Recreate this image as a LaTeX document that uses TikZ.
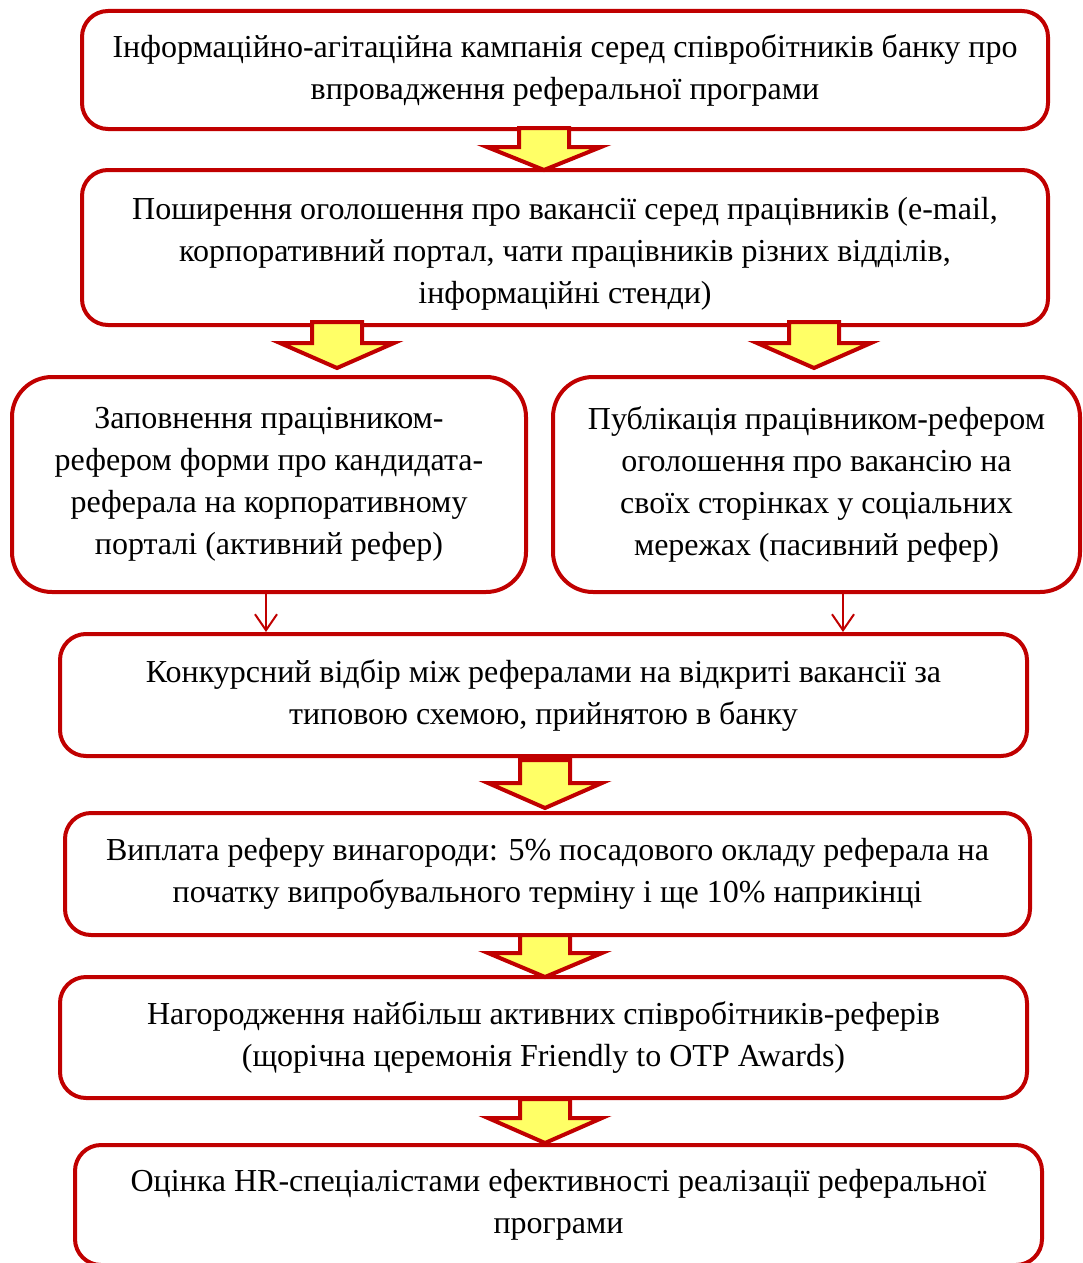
\documentclass[tikz,border=0pt]{standalone}
\usepackage{fontspec}
\setmainfont{Liberation Serif}
\usetikzlibrary{arrows.meta}
\definecolor{boxred}{RGB}{192,0,0}
\definecolor{arrowyellow}{RGB}{255,255,102}
\newcommand{\blockarrow}[5][]{%
  \path[blockarr,#1] (#2-25,#3) -- (#2+25,#3) -- (#2+25,#4) -- (#2+57,#4) -- (#2,#5) -- (#2-57,#4) -- (#2-25,#4) -- cycle;}
\begin{document}
\begin{tikzpicture}[x=1pt,y=-1pt,
  boxtext/.style={align=center, font=\fontsize{32}{42}\selectfont, text=black, inner sep=0pt},
  box/.style={draw=boxred, line width=4pt, rounded corners=26pt, inner sep=0pt, boxtext},
  blockarr/.style={draw=boxred, fill=arrowyellow, line width=4pt, line join=miter},
  thinarr/.style={draw=boxred, line width=2pt, -{Straight Barb[length=16pt,width=22pt,line width=2pt]}}]
\useasboundingbox (0,0) rectangle (1082,1263);
\node[box, minimum width=966pt, minimum height=118pt] (b1) at (565,70)
  {Інформаційно-агітаційна кампанія серед співробітників банку про\\впровадження реферальної програми};
\node[box, minimum width=966pt, minimum height=155pt,
  label={[boxtext, yshift=-6pt]center:Поширення оголошення про вакансії серед працівників (e-mail,\\корпоративний портал, чати працівників різних відділів,\\інформаційні стенди)}] (b2) at (565,247.5) {};
\node[box, rounded corners=40pt, minimum width=514pt, minimum height=215pt] (b3) at (269,484.5)
  {Заповнення працівником-\\рефером форми про кандидата-\\реферала на корпоративному\\порталі (активний рефер)};
\node[box, rounded corners=40pt, minimum width=527pt, minimum height=215pt] (b4) at (816.5,484.5)
  {Публікація працівником-рефером\\оголошення про вакансію на\\своїх сторінках у соціальних\\мережах (пасивний рефер)};
\node[box, minimum width=967pt, minimum height=122pt] (b5) at (543.5,695)
  {Конкурсний відбір між рефералами на відкриті вакансії за\\типовою схемою, прийнятою в банку};
\node[box, minimum width=965pt, minimum height=122pt] (b6) at (547.5,874)
  {Виплата реферу винагороди: 5\% посадового окладу реферала на\\початку випробувального терміну і ще 10\% наприкінці};
\node[box, minimum width=967pt, minimum height=121pt] (b7) at (543.5,1037.5)
  {Нагородження найбільш активних співробітників-реферів\\(щорічна церемонія Friendly to OTP Awards)};
\node[box, minimum width=967pt, minimum height=120pt] (b8) at (558.5,1205)
  {Оцінка HR-спеціалістами ефективності реалізації реферальної\\програми};
% block arrows
\blockarrow{544}{128}{147}{170}
\blockarrow{337}{322}{343}{368}
\blockarrow{814}{322}{343}{368}
\blockarrow{545}{760}{783}{808}
\blockarrow{545}{935}{953}{977}
\blockarrow{545}{1099}{1118}{1143}
% thin arrows
\coordinate (t3) at ([xshift=-3pt]b3.south);
\coordinate (t4) at ([xshift=26.5pt]b4.south);
\draw[thinarr] (t3) -- (t3 |- b5.north);
\draw[thinarr] (t4) -- (t4 |- b5.north);
\end{tikzpicture}
\end{document}
